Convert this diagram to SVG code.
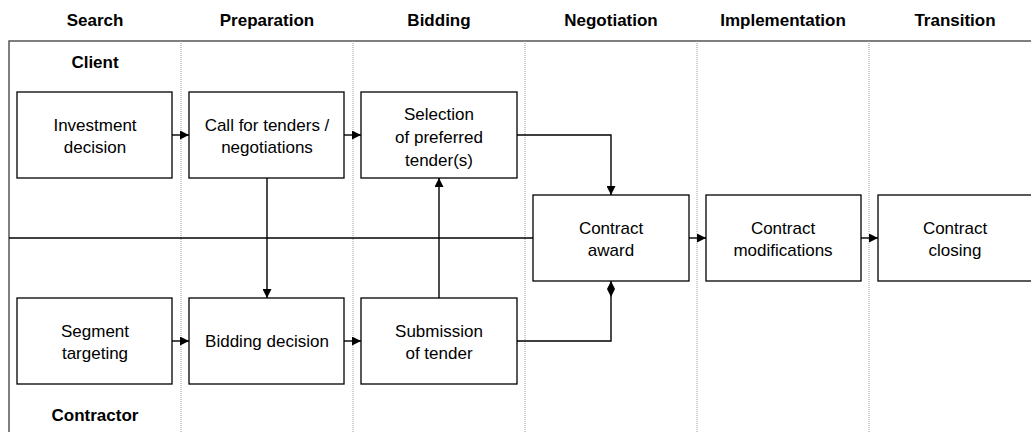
<svg xmlns="http://www.w3.org/2000/svg" width="1031" height="432" viewBox="0 0 1031 432">
<style>
text{font-family:"Liberation Sans",Arial,sans-serif;fill:#000;text-anchor:middle}
.h{font-weight:bold;font-size:17px}
.t{font-size:17px}
.box{fill:#fff;stroke:#000;stroke-width:1.3}
.div{stroke:#999;stroke-width:1;stroke-dasharray:1 1}
.frame{stroke:#555;stroke-width:1.5;fill:none}
.c{stroke:#000;stroke-width:1.4;fill:none}
</style>
<defs>
<marker id="arr" viewBox="0 0 10 10" refX="10" refY="5" markerWidth="9" markerHeight="9" markerUnits="userSpaceOnUse" orient="auto"><path d="M0,0L10,5L0,10z" fill="#000"/></marker>
<marker id="dia" viewBox="0 0 16 8" refX="16" refY="4" markerWidth="16" markerHeight="8" markerUnits="userSpaceOnUse" orient="auto"><path d="M0,4L8,0L16,4L8,8z" fill="#000"/></marker>
</defs>
<rect width="1031" height="432" fill="#fff"/>
<g id="frame">
<path class="frame" d="M9,432V41H1031"/>
<line class="div" x1="181" y1="41" x2="181" y2="432"/>
<line class="div" x1="353" y1="41" x2="353" y2="432"/>
<line class="div" x1="525" y1="41" x2="525" y2="432"/>
<line class="div" x1="697" y1="41" x2="697" y2="432"/>
<line class="div" x1="869" y1="41" x2="869" y2="432"/>
</g>
<g id="headers">
<text class="h" x="95" y="26">Search</text>
<text class="h" x="267" y="26">Preparation</text>
<text class="h" x="439" y="26">Bidding</text>
<text class="h" x="611" y="26">Negotiation</text>
<text class="h" x="783" y="26">Implementation</text>
<text class="h" x="955" y="26">Transition</text>
<text class="h" x="95" y="68">Client</text>
<text class="h" x="95" y="421">Contractor</text>
</g>
<g id="connectors">
<line class="c" x1="9" y1="238" x2="533" y2="238"/>
<line class="c" x1="172" y1="135" x2="189" y2="135" marker-end="url(#arr)"/>
<line class="c" x1="344" y1="135" x2="361" y2="135" marker-end="url(#arr)"/>
<line class="c" x1="172" y1="341" x2="189" y2="341" marker-end="url(#arr)"/>
<line class="c" x1="344" y1="341" x2="361" y2="341" marker-end="url(#arr)"/>
<line class="c" x1="267" y1="178" x2="267" y2="298" marker-end="url(#arr)"/>
<line class="c" x1="439" y1="298" x2="439" y2="178" marker-end="url(#arr)"/>
<path class="c" d="M517,135H611V195" marker-end="url(#arr)"/>
<path class="c" d="M517,341H611V281" marker-end="url(#dia)"/>
<line class="c" x1="689" y1="238" x2="706" y2="238" marker-end="url(#arr)"/>
<line class="c" x1="861" y1="238" x2="878" y2="238" marker-end="url(#arr)"/>
</g>
<g id="investment">
<rect class="box" x="17" y="92" width="155" height="86"/>
<text class="t" x="95" y="131">Investment</text>
<text class="t" x="95" y="153">decision</text>
</g>
<g id="call">
<rect class="box" x="189" y="92" width="155" height="86"/>
<text class="t" x="267" y="131">Call for tenders /</text>
<text class="t" x="267" y="153">negotiations</text>
</g>
<g id="selection">
<rect class="box" x="361" y="92" width="156" height="86"/>
<text class="t" x="439" y="120">Selection</text>
<text class="t" x="439" y="143">of preferred</text>
<text class="t" x="439" y="166">tender(s)</text>
</g>
<g id="award">
<rect class="box" x="533" y="195" width="156" height="86"/>
<text class="t" x="611" y="234">Contract</text>
<text class="t" x="611" y="256">award</text>
</g>
<g id="modifications">
<rect class="box" x="706" y="195" width="155" height="86"/>
<text class="t" x="783" y="234">Contract</text>
<text class="t" x="783" y="256">modifications</text>
</g>
<g id="closing">
<rect class="box" x="878" y="195" width="155" height="86"/>
<text class="t" x="955" y="234">Contract</text>
<text class="t" x="955" y="256">closing</text>
</g>
<g id="segment">
<rect class="box" x="17" y="298" width="155" height="86"/>
<text class="t" x="95" y="337">Segment</text>
<text class="t" x="95" y="359">targeting</text>
</g>
<g id="bidding">
<rect class="box" x="189" y="298" width="155" height="86"/>
<text class="t" x="267" y="347">Bidding decision</text>
</g>
<g id="submission">
<rect class="box" x="361" y="298" width="156" height="86"/>
<text class="t" x="439" y="337">Submission</text>
<text class="t" x="439" y="359">of tender</text>
</g>
</svg>
